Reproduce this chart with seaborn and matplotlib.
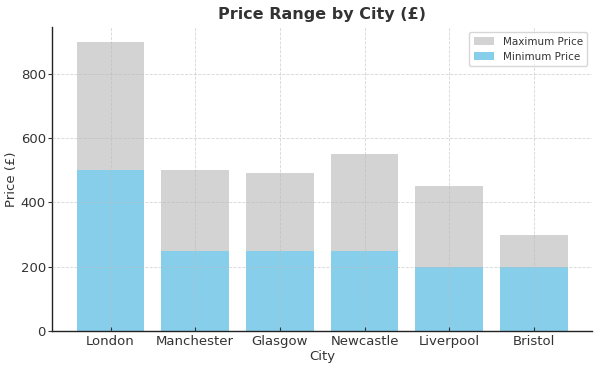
import matplotlib
matplotlib.use("Agg")
import matplotlib.pyplot as plt
import seaborn as sns
import pandas as pd

cities = ["London", "Manchester", "Glasgow", "Newcastle", "Liverpool", "Bristol"]
max_price = [900, 500, 490, 550, 450, 300]
min_price = [500, 250, 250, 250, 200, 200]

df = pd.DataFrame({"City": cities, "Max": max_price, "Min": min_price})

sns.set_style("white")
plt.rcParams['font.family'] = ['DejaVu Sans']
fig = plt.figure(figsize=(6, 3.72), dpi=100)
ax = fig.add_axes([0.087, 0.11, 0.9, 0.817])

sns.barplot(data=df, x="City", y="Max", color="#D3D3D3", saturation=1,
            label="Maximum Price", ax=ax, width=0.8, linewidth=0)
sns.barplot(data=df, x="City", y="Min", color="#87CEEB", saturation=1,
            label="Minimum Price", ax=ax, width=0.8, linewidth=0)

ax.set_xlim(-0.69, 5.69)
ax.set_ylim(0, 945)
ax.set_axisbelow(False)
ax.grid(True, linestyle="--", linewidth=0.6, color="#bbbbbb", alpha=0.6)
for s in ["top", "right"]:
    ax.spines[s].set_visible(False)
for s in ["left", "bottom"]:
    ax.spines[s].set_color("#222222")
    ax.spines[s].set_linewidth(1.0)
ax.tick_params(axis="both", colors="#333333", labelsize=9.5, length=3,
               left=True, bottom=True)
ax.tick_params(axis="x", direction="in", pad=3)
ax.tick_params(axis="y", pad=1.5)
ax.set_title("Price Range by City (£)", fontsize=11.5, fontweight="bold", color="#333333", pad=6)
ax.set_xlabel("City", fontsize=9.5, color="#333333", labelpad=1)
ax.set_ylabel("Price (£)", fontsize=9.5, color="#333333", labelpad=2)
leg = ax.legend(loc="upper right", fontsize=7.5, frameon=True, bbox_to_anchor=(1.0, 1.0))
for t in leg.get_texts():
    t.set_color("#333333")

fig.savefig("out.png", dpi=100)
